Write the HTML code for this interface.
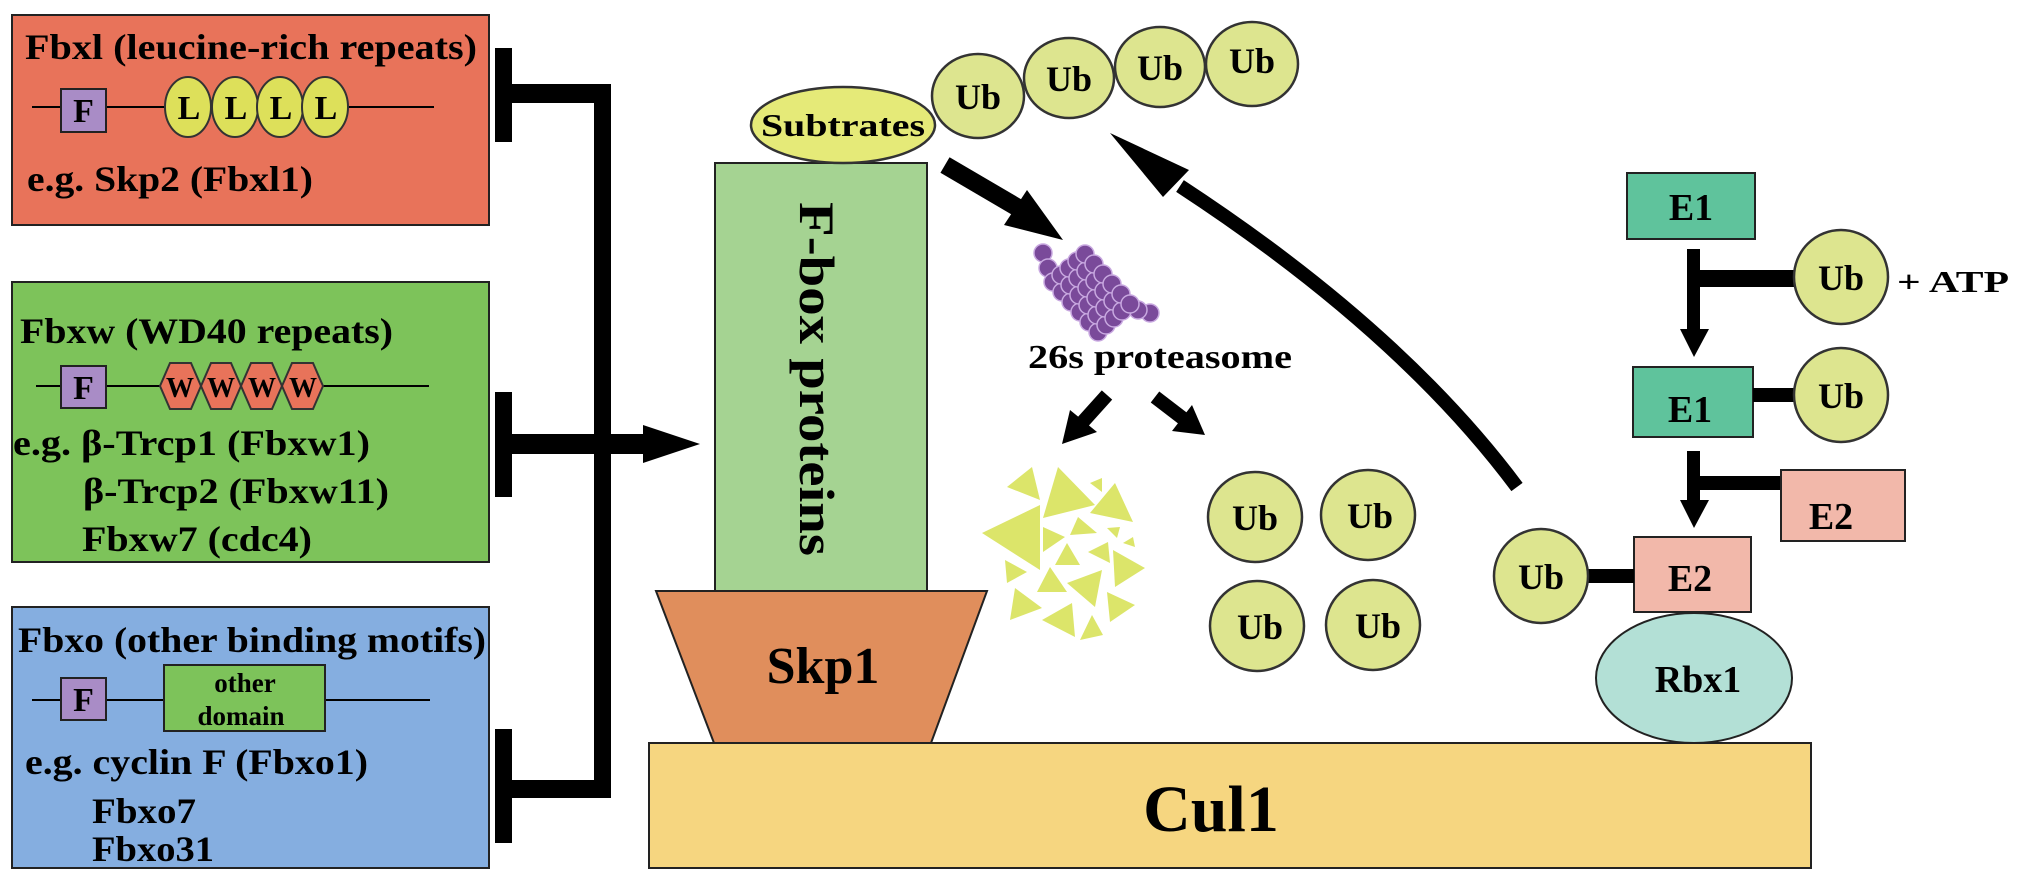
<!DOCTYPE html>
<html><head><meta charset="utf-8"><style>
html,body{margin:0;padding:0;background:#fff;}
svg{display:block;}
text{font-family:"Liberation Serif",serif;font-weight:bold;fill:#000;}
</style></head><body>
<svg width="2031" height="881" viewBox="0 0 2031 881" xmlns="http://www.w3.org/2000/svg">
<!-- Left boxes -->
<rect x="12" y="15" width="477" height="210" fill="#e8735a" stroke="#222" stroke-width="2"/>
<rect x="12" y="282" width="477" height="280" fill="#7dc35a" stroke="#222" stroke-width="2"/>
<rect x="12" y="607" width="477" height="261" fill="#85aee0" stroke="#222" stroke-width="2"/>

<!-- Fbxl -->
<text x="25" y="59" font-size="36" textLength="452" lengthAdjust="spacingAndGlyphs">Fbxl (leucine-rich repeats)</text>
<line x1="32" y1="107" x2="434" y2="107" stroke="#000" stroke-width="2"/>
<rect x="61" y="89" width="45" height="43" fill="#a98cc6" stroke="#222" stroke-width="2"/>
<text x="83.5" y="122" font-size="34" text-anchor="middle">F</text>
<g fill="#dde05a" stroke="#333" stroke-width="2">
<ellipse cx="188" cy="107" rx="23" ry="30"/><ellipse cx="235" cy="107" rx="23" ry="30"/>
<ellipse cx="280" cy="107" rx="23" ry="30"/><ellipse cx="325" cy="107" rx="23" ry="30"/></g>
<g font-size="34" text-anchor="middle"><text x="189" y="119">L</text><text x="236" y="119">L</text><text x="281" y="119">L</text><text x="326" y="119">L</text></g>
<text x="27" y="191" font-size="36" textLength="286" lengthAdjust="spacingAndGlyphs">e.g. Skp2 (Fbxl1)</text>

<!-- Fbxw -->
<text x="20" y="343" font-size="36" textLength="373" lengthAdjust="spacingAndGlyphs">Fbxw (WD40 repeats)</text>
<line x1="36" y1="386" x2="429" y2="386" stroke="#000" stroke-width="2"/>
<rect x="61" y="366" width="45" height="42" fill="#a98cc6" stroke="#222" stroke-width="2"/>
<text x="83.5" y="399" font-size="34" text-anchor="middle">F</text>
<g fill="#e8735a" stroke="#333" stroke-width="2">
<polygon points="160,386 170,363 191,363 201,386 191,409 170,409"/>
<polygon points="201,386 211,363 231,363 241,386 231,409 211,409"/>
<polygon points="241,386 251,363 272,363 282,386 272,409 251,409"/>
<polygon points="282,386 292,363 313,363 323,386 313,409 292,409"/></g>
<g font-size="28" text-anchor="middle"><text x="180" y="397">W</text><text x="221" y="397">W</text><text x="262" y="397">W</text><text x="303" y="397">W</text></g>
<text x="13" y="455" font-size="36" textLength="357" lengthAdjust="spacingAndGlyphs">e.g. β-Trcp1 (Fbxw1)</text>
<text x="83" y="503" font-size="36" textLength="306" lengthAdjust="spacingAndGlyphs">β-Trcp2 (Fbxw11)</text>
<text x="82" y="551" font-size="36" textLength="230" lengthAdjust="spacingAndGlyphs">Fbxw7 (cdc4)</text>

<!-- Fbxo -->
<text x="18" y="652" font-size="36" textLength="468" lengthAdjust="spacingAndGlyphs">Fbxo (other binding motifs)</text>
<line x1="32" y1="700" x2="430" y2="700" stroke="#000" stroke-width="2"/>
<rect x="61" y="678" width="45" height="42" fill="#a98cc6" stroke="#222" stroke-width="2"/>
<text x="83.5" y="711" font-size="34" text-anchor="middle">F</text>
<rect x="164" y="665" width="161" height="66" fill="#7dc35a" stroke="#222" stroke-width="2"/>
<text x="245" y="692" font-size="27" text-anchor="middle">other</text>
<text x="241" y="725" font-size="27" text-anchor="middle">domain</text>
<text x="25" y="774" font-size="36" textLength="343" lengthAdjust="spacingAndGlyphs">e.g. cyclin F (Fbxo1)</text>
<text x="92" y="823" font-size="36" textLength="104" lengthAdjust="spacingAndGlyphs">Fbxo7</text>
<text x="92" y="861" font-size="36" textLength="122" lengthAdjust="spacingAndGlyphs">Fbxo31</text>

<!-- connector bars -->
<g fill="#000">
<rect x="495" y="48" width="17" height="94"/>
<rect x="495" y="392" width="17" height="105"/>
<rect x="495" y="729" width="17" height="114"/>
<rect x="512" y="84" width="99" height="19"/>
<rect x="594" y="84" width="17" height="714"/>
<rect x="512" y="780" width="99" height="18"/>
<rect x="512" y="434" width="135" height="20"/>
<polygon points="643,425 700,444 643,463"/>
</g>

<!-- Cul1 -->
<rect x="649" y="743" width="1162" height="125" fill="#f6d680" stroke="#222" stroke-width="2"/>
<text x="1211" y="831" font-size="66" text-anchor="middle">Cul1</text>
<!-- Skp1 -->
<polygon points="656,591 987,591 931,743 714,743" fill="#e08e5c" stroke="#222" stroke-width="2"/>
<text x="823" y="683" font-size="52" text-anchor="middle">Skp1</text>
<!-- F-box -->
<rect x="715" y="163" width="212" height="428" fill="#a5d392" stroke="#222" stroke-width="2"/>
<text transform="translate(800,379) rotate(90)" font-size="50" text-anchor="middle" textLength="354" lengthAdjust="spacingAndGlyphs">F-box proteins</text>

<!-- Subtrates + Ub chain -->
<ellipse cx="843" cy="125" rx="92" ry="38" fill="#e5ea78" stroke="#333" stroke-width="2.5"/>
<text x="843" y="136" font-size="32" text-anchor="middle" textLength="164" lengthAdjust="spacingAndGlyphs">Subtrates</text>
<g fill="#dde58f" stroke="#333" stroke-width="2.5">
<ellipse cx="978" cy="96" rx="46" ry="42"/><ellipse cx="1069" cy="78" rx="45" ry="40"/>
<ellipse cx="1160" cy="67" rx="45" ry="40"/><ellipse cx="1252" cy="64" rx="46" ry="42"/></g>
<g font-size="36" text-anchor="middle"><text x="978" y="109">Ub</text><text x="1069" y="91">Ub</text><text x="1160" y="80">Ub</text><text x="1252" y="73">Ub</text></g>

<!-- arrow subtrates -> proteasome -->
<line x1="945" y1="165" x2="1020" y2="209" stroke="#000" stroke-width="18"/>
<polygon points="1063,240 1027,190 1004,225" fill="#000"/>

<!-- proteasome -->
<g fill="#7a4a9a" stroke="#c8a8e0" stroke-width="1.5">
<circle cx="1043" cy="253" r="9"/><circle cx="1048" cy="268" r="9"/><circle cx="1150" cy="313" r="9"/><circle cx="1138" cy="310" r="9"/>
<circle cx="1053" cy="282" r="9"/><circle cx="1062" cy="292" r="9"/><circle cx="1071" cy="302" r="9"/><circle cx="1080" cy="312" r="9"/><circle cx="1089" cy="322" r="9"/><circle cx="1098" cy="332" r="9"/>
<circle cx="1061" cy="275" r="9"/><circle cx="1070" cy="285" r="9"/><circle cx="1079" cy="295" r="9"/><circle cx="1088" cy="305" r="9"/><circle cx="1097" cy="315" r="9"/><circle cx="1106" cy="325" r="9"/>
<circle cx="1069" cy="268" r="9"/><circle cx="1078" cy="278" r="9"/><circle cx="1087" cy="288" r="9"/><circle cx="1096" cy="298" r="9"/><circle cx="1105" cy="308" r="9"/><circle cx="1114" cy="318" r="9"/>
<circle cx="1077" cy="261" r="9"/><circle cx="1086" cy="271" r="9"/><circle cx="1095" cy="281" r="9"/><circle cx="1104" cy="291" r="9"/><circle cx="1113" cy="301" r="9"/><circle cx="1122" cy="311" r="9"/>
<circle cx="1085" cy="254" r="9"/><circle cx="1094" cy="264" r="9"/><circle cx="1103" cy="274" r="9"/><circle cx="1112" cy="284" r="9"/><circle cx="1121" cy="294" r="9"/><circle cx="1130" cy="304" r="9"/>
</g>
<text x="1160" y="368" font-size="34" text-anchor="middle" textLength="264" lengthAdjust="spacingAndGlyphs">26s proteasome</text>

<!-- small arrows -->
<line x1="1107" y1="395" x2="1080" y2="425" stroke="#000" stroke-width="14"/>
<polygon points="1062,444 1070,410 1097,432" fill="#000"/>
<line x1="1155" y1="397" x2="1185" y2="420" stroke="#000" stroke-width="14"/>
<polygon points="1205,435 1172,431 1192,405" fill="#000"/>

<!-- triangles -->
<g fill="#dce56a">
<polygon points="1007,487 1032,467 1040,500"/><polygon points="1043,518 1058,467 1095,505"/>
<polygon points="1090,513 1115,483 1133,522"/><polygon points="982,533 1040,505 1040,570"/>
<polygon points="1043,527 1043,552 1065,537"/><polygon points="1070,535 1078,517 1097,533"/>
<polygon points="1107,528 1120,527 1117,538"/><polygon points="1088,552 1108,542 1110,563"/>
<polygon points="1055,565 1067,543 1080,565"/><polygon points="1113,550 1145,568 1115,587"/>
<polygon points="1005,560 1027,572 1007,583"/><polygon points="1037,592 1050,567 1067,592"/>
<polygon points="1067,583 1102,570 1095,607"/><polygon points="1010,620 1015,588 1042,608"/>
<polygon points="1042,620 1072,603 1075,637"/><polygon points="1080,640 1092,615 1103,635"/>
<polygon points="1107,592 1135,605 1110,622"/><polygon points="1123,543 1133,537 1135,547"/>
<polygon points="1090,483 1102,478 1102,492"/>
</g>

<!-- free Ub -->
<g fill="#dde58f" stroke="#333" stroke-width="2.5">
<ellipse cx="1255" cy="517" rx="47" ry="45"/><ellipse cx="1257" cy="626" rx="47" ry="45"/>
<ellipse cx="1368" cy="515" rx="47" ry="45"/><ellipse cx="1373" cy="625" rx="47" ry="45"/></g>
<g font-size="36" text-anchor="middle"><text x="1255" y="530">Ub</text><text x="1260" y="639">Ub</text><text x="1370" y="528">Ub</text><text x="1378" y="638">Ub</text></g>

<!-- curved arrow -->
<path d="M1517,487 Q1400,330 1180,186" fill="none" stroke="#000" stroke-width="14"/>
<polygon points="1110,133 1189,170 1163,197" fill="#000"/>

<!-- E1 / E2 cascade -->
<rect x="1627" y="173" width="128" height="66" fill="#5fc39c" stroke="#222" stroke-width="2"/>
<text x="1691" y="220" font-size="38" text-anchor="middle">E1</text>
<rect x="1687" y="249" width="13" height="82" fill="#000"/>
<polygon points="1680,329 1709,329 1694,357" fill="#000"/>
<rect x="1700" y="270" width="96" height="17" fill="#000"/>
<ellipse cx="1841" cy="277" rx="47" ry="47" fill="#dde58f" stroke="#333" stroke-width="2.5"/>
<text x="1841" y="290" font-size="36" text-anchor="middle">Ub</text>
<text x="1897" y="292" font-size="31" textLength="112" lengthAdjust="spacingAndGlyphs">+ ATP</text>

<rect x="1633" y="367" width="120" height="70" fill="#5fc39c" stroke="#222" stroke-width="2"/>
<text x="1690" y="422" font-size="38" text-anchor="middle">E1</text>
<rect x="1753" y="388" width="43" height="14" fill="#000"/>
<ellipse cx="1841" cy="395" rx="47" ry="47" fill="#dde58f" stroke="#333" stroke-width="2.5"/>
<text x="1841" y="408" font-size="36" text-anchor="middle">Ub</text>

<rect x="1687" y="451" width="13" height="52" fill="#000"/>
<polygon points="1680,500 1709,500 1694,528" fill="#000"/>
<rect x="1700" y="476" width="83" height="14" fill="#000"/>
<rect x="1781" y="470" width="124" height="71" fill="#f2b8aa" stroke="#222" stroke-width="2"/>
<text x="1831" y="529" font-size="38" text-anchor="middle">E2</text>

<ellipse cx="1694" cy="678" rx="98" ry="65" fill="#b3e0d6" stroke="#222" stroke-width="2"/>
<text x="1698" y="692" font-size="38" text-anchor="middle">Rbx1</text>
<rect x="1634" y="537" width="117" height="75" fill="#f2b8aa" stroke="#222" stroke-width="2"/>
<text x="1690" y="591" font-size="38" text-anchor="middle">E2</text>
<rect x="1588" y="569" width="46" height="14" fill="#000"/>
<ellipse cx="1541" cy="576" rx="47" ry="47" fill="#dde58f" stroke="#333" stroke-width="2.5"/>
<text x="1541" y="589" font-size="36" text-anchor="middle">Ub</text>
</svg>
</body></html>
